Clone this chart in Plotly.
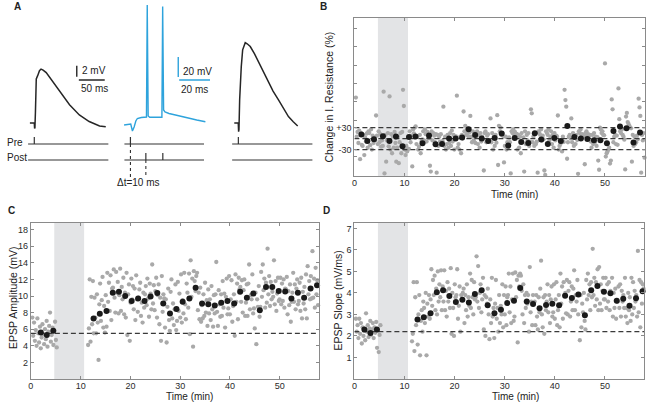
import numpy as np
import plotly.graph_objects as go

W, H = 652, 403
FONT = "Liberation Sans, Arial, sans-serif"

# ---------------- Panel A: example traces ----------------
# before pairing (ms, mV relative to rest)
before_t = [-8.5, 0.0, 0.6, 1.2, 2.2, 3.0, 3.8, 6.5, 10.0, 13.0, 17.0, 23.0, 36.0, 49.0, 68.0, 87.0, 106.0, 126.0, 138.0]
before_v = [0.0, 0.0, -1.0, -0.9, 2.0, 5.5, 8.0, 8.6, 9.5, 9.8, 9.6, 9.15, 7.5, 5.7, 3.3, 1.45, 0.25, -0.55, -0.7]
# during pairing (ms, mV)
pairing_t = [-4.1, 0.2, 1.3, 2.4, 3.5, 4.5, 7.0, 10.4, 10.9, 11.5, 12.5, 16.0, 20.4, 20.9, 21.5, 22.4, 25.0, 29.2, 33.0, 37.9, 43.0, 48.6]
pairing_v = [-70, -69, -76, -72, -66, -63.5, -62.5, -62, 50, -61, -62.2, -62.3, -62.3, 48.5, -55, -57, -58.5, -60, -61.5, -63.3, -65, -66.7]
# after pairing (ms, mV relative to rest)
after_t = [-7.9, -0.2, 0.5, 1.2, 2.5, 4.0, 5.6, 8.3, 11.0, 13.3, 17.0, 23.0, 31.0, 39.0, 48.0, 58.0, 67.0, 77.5, 87.0, 96.7, 106.0, 114.6]
after_v = [0.0, 0.0, -1.6, -1.2, 4.2, 7.5, 10.2, 13.3, 14.3, 14.6, 14.4, 13.9, 12.6, 11.1, 9.3, 7.5, 5.8, 4.2, 2.6, 1.15, 0.2, -0.55]
pre_stim_ms = [[0], [0], [0]]
post_stim_ms = [[], [10, 21], []]
epsp_scale = [50, 2]     # ms, mV
pair_scale = [20, 20]    # ms, mV

# ---------------- Panel B: input resistance (%) ----------------
res_bin_t = [1.4, 2.6, 3.9, 5.7, 7.0, 8.3, 9.6, 10.9, 12.2, 13.6, 14.9, 16.2, 17.5, 18.9, 20.2, 21.5, 22.8,
             24.1, 25.4, 26.7, 28.0, 29.4, 30.7, 32.0, 33.3, 34.7, 36.0, 37.3, 38.6, 39.9, 41.2, 42.5, 43.9,
             45.2, 46.5, 47.8, 49.1, 50.4, 51.7, 53.0, 54.3, 55.7, 57.0]
res_bin_v = [10.9, -6.4, -1.8, 6.4, -6.4, 5.5, -20.9, 4.5, 5.5, -12.7, 8.2, -15.5, -14.5, 0, 0, 2.7, 25.5,
             10, 0, -6.4, 1.8, 13.6, -19, 1.8, -9, -11.8, 14.5, -2.7, -14.5, 1.8, -6.4, 34.5, 4.5,
             0, -1, -4.5, -4.5, -12.7, 21, 32.7, 28, -10.9, 16.4]
res_gray = [
    112, 5, 18, -12, 22, -56, 15, -17,   -20, 10, -45, 3, -8, 14, -25, 20,
    15, -18, 25, -30, 8, -12, 3, -5,     63, 8, -15, 20, -10, 12, -22, -5,
    -20, 128, -95, 10, -63, -5, 15, -21, 115, -30, 12, -40, 6, -25, 18, -12,
    -63, -25, 5, -67, -10, 15, -40, 18,  133, 89, -30, -45, -20, -35, -28, -28,
    20, -10, 8, -76, 25, 14, 30, 33,     -15, 5, -30, -22, 10, -40, -8, -2,
    20, -5, 25, 12, -8, 18, 3, 1,        -74, -90, 20, -5, 15, 8, -10, 12,
    -93, 10, -20, 5, -8, 12, -15, -7,    87, -20, 5, -30, -15, 10, -25, -12,
    15, -20, 22, -8, 10, -30, 5, 6,      117, -25, -15, -30, 5, -40, 10, 0,
    74, 20, 35, 10, 28, 15, 5, 17,       62, 5, -10, 20, -5, 15, -12, 5,
    20, -15, 10, -25, 15, -8, 5, -2,     -87, 15, 20, -10, 8, 12, -5, -4,
    55, -10, 15, -30, 5, -20, 10, -11,   64, -72, 35, 20, 30, 10, 15, 7,
    -65, -20, 5, -30, -10, -25, 3, -10,  -95, 20, 15, 25, 10, 18, 8, 13,
    -30, 10, -25, 5, -40, 15, -10, 3,    -90, 20, -15, 10, -5, 15, -20, -9,
    80, 69, -10, 5, -20, 15, -15, -8,    -93, 20, 15, 10, 25, -5, 8, -2,
    -87, -99, 20, 15, 10, 25, -5, 5,     20, -15, 10, -25, 15, -5, 8, 6,
    63, -30, -20, -15, -10, -35, 5, -9,  133, 105, 87, -55, -10, 5, 10, 1,
    55, -10, 15, -20, 5, -15, 10, -4,    -96, 20, 15, 25, 10, 12, 8, 6,
    -70, 15, 20, 8, 12, 5, 10, -8,       -25, 10, -15, 15, -10, 5, -20, 4,
    -60, -85, 30, 25, 15, 20, 10, 9,     205, -49, -40, -35, -30, -25, -68, -60,
    107, 80, -10, 5, 10, -15, 8, -17,    137, 53, 20, 15, 25, 10, 5, -3,
    -84, 60, 70, 45, 40, 35, 30, 28,     -63, 10, -20, 5, -15, -10, 8, -2,
    109, 85, 62, -93, 10, -5, 15, -52,
]
res_levels = [30, 0, -30]

# ---------------- Panels C / D: EPSP amplitude and slope ----------------
bin_t = [2.0, 3.2, 4.5,
         12.6, 13.85, 15.2, 16.45, 17.7, 18.95, 20.25, 21.55, 22.85, 24.05, 25.4, 26.6, 27.95, 29.25,
         30.5, 31.85, 33.1, 34.4, 35.65, 36.95, 38.25, 39.5, 40.85, 42.05, 43.4, 44.7, 46.0, 47.25,
         48.5, 49.8, 51.1, 52.35, 53.65, 54.9, 56.2, 57.5]
amp_bin = [5.6, 5.3, 5.8,
           7.3, 7.85, 8.2, 10.4, 10.5, 10.0, 9.4, 9.7, 9.4, 9.95, 10.35, 9.1, 7.9, 8.45, 9.3, 9.7, 11.0, 9.1,
           9.0, 8.85, 9.2, 9.4, 9.1, 10.5, 9.8, 10.3, 8.3, 11.1, 11.1, 10.6, 10.55, 9.7, 10.4, 9.8, 10.9, 11.3]
slope_bin = [2.3, 2.14, 2.3,
             2.76, 2.87, 3.06, 4.03, 4.12, 3.86, 3.58, 3.68, 3.55, 3.95, 4.13, 3.43, 3.06, 3.22, 3.53, 3.64,
             4.23, 3.6, 3.49, 3.29, 3.44, 3.5, 3.43, 3.87, 3.77, 3.93, 2.96, 4.12, 4.32, 4.06, 3.98, 3.64,
             3.73, 3.4, 3.75, 4.08]
amp_base_gray = [7.4, 5.2, 6.8, 4.6, 5.9, 4.0, 7.3, 5.5, 4.4, 6.3, 3.7, 5.0, 6.6, 5.4, 4.2,
                 6.0, 4.8, 7.0, 3.9, 5.7, 6.4, 8.0, 4.5, 5.3, 6.2, 4.1, 5.8, 6.9, 4.7, 3.8]
amp_post_gray = [
    4.1, 6.1, 12.0, 4.5, 9.9, 6.6, 11.8, 5.5,    9.8, 7.4, 5.5, 10.2, 6.8, 2.3, 9.0, 11.5,
    7.0, 9.5, 12.3, 6.2, 8.8, 5.6, 10.1, 6.3,    12.8, 9.3, 11.6, 8.2, 12.5, 7.1, 10.9, 11.0,
    13.2, 9.8, 8.0, 12.9, 10.4, 11.7, 7.9, 10.1, 13.3, 8.2, 11.1, 9.6, 12.2, 7.8, 10.4, 7.4,
    12.8, 5.3, 10.2, 11.4, 4.6, 9.2, 12.1, 9.6,  11.2, 8.4, 10.9, 7.1, 12.5, 9.6, 8.1, 9.8,
    10.8, 11.6, 7.6, 9.2, 6.8, 10.4, 8.6, 10.2,  11.2, 8.9, 12.1, 9.7, 7.5, 11.5, 10.3, 8.4,
    13.8, 9.1, 11.3, 8.3, 10.6, 12.2, 7.4, 10.1, 11.4, 6.6, 9.8, 4.6, 12.4, 8.1, 10.2, 9.7,
    6.2, 9.6, 4.4, 8.7, 10.9, 7.1, 5.8, 10.5,    12.0, 7.3, 9.1, 6.5, 8.4, 11.4, 5.9, 7.0,
    11.7, 8.2, 10.3, 7.4, 12.6, 6.8, 9.5, 7.9,   12.8, 9.0, 7.2, 11.5, 10.4, 8.6, 12.7, 5.4,
    14.3, 9.9, 12.1, 3.9, 13.0, 11.8, 10.6, 12.4, 12.8, 8.3, 10.4, 7.2, 11.0, 6.9, 8.9, 7.3,
    10.2, 7.6, 11.6, 8.0, 9.5, 6.4, 10.8, 7.9,   9.6, 7.1, 11.2, 8.4, 6.3, 10.1, 7.9, 10.2,
    14.1, 8.1, 6.4, 10.7, 9.0, 7.5, 10.2, 7.6,   11.8, 8.6, 10.3, 6.2, 9.9, 12.1, 7.8, 8.5,
    12.4, 7.8, 9.6, 11.9, 6.9, 8.8, 10.2, 5.2,   12.6, 9.3, 11.5, 7.2, 12.2, 10.8, 11.1, 9.3,
    11.9, 8.0, 10.7, 12.0, 7.6, 9.2, 11.4, 7.6,  11.5, 13.8, 8.4, 10.1, 9.6, 12.6, 7.9, 8.5,
    6.1, 10.4, 4.2, 9.6, 8.7, 11.2, 7.5, 8.7,    12.9, 9.9, 13.8, 10.7, 12.1, 8.6, 11.6, 9.2,
    15.7, 10.2, 12.4, 8.8, 11.7, 9.6, 10.5, 9.9, 14.3, 9.0, 11.8, 8.2, 10.3, 12.2, 9.4, 9.6,
    12.2, 9.0, 11.5, 9.4, 12.0, 8.6, 10.9, 10.8, 12.3, 7.8, 10.6, 8.9, 11.4, 6.9, 9.3, 10.4,
    12.8, 9.3, 11.4, 8.4, 10.9, 12.0, 9.0, 9.4,  11.6, 8.2, 12.2, 7.3, 10.5, 9.1, 11.1, 8.4,
    12.6, 7.3, 13.6, 10.2, 11.8, 9.6, 12.4, 9.7, 15.4, 9.8, 12.1, 8.6, 13.4, 10.2, 11.9, 8.9,
]
slope_base_gray = [2.8, 2.2, 2.5, 1.9, 2.8, 2.1, 2.6, 1.65, 2.4, 2.0, 2.3, 1.8, 3.05, 2.2, 2.5,
                   1.95, 2.35, 2.7, 2.05, 2.3, 2.6, 1.9, 2.4, 2.15, 2.65, 1.45, 2.25, 1.25, 2.05, 2.5]
slope_post_gray = [
    1.75, 2.1, 4.5, 1.3, 3.8, 2.5, 4.5, 1.6,     3.0, 3.9, 1.1, 2.7, 3.2, 2.2, 3.6, 3.3,
    2.6, 4.0, 1.1, 3.5, 2.9, 3.9, 2.8, 3.7,      5.1, 3.4, 4.6, 3.9, 4.8, 3.2, 4.2, 3.0,
    5.0, 3.6, 4.4, 3.8, 5.05, 3.2, 4.3, 3.6,     5.05, 3.2, 4.1, 2.9, 4.5, 3.6, 4.2, 3.3,
    5.15, 2.1, 4.0, 3.3, 2.0, 4.4, 3.8, 3.9,     5.1, 2.8, 3.4, 4.3, 2.2, 3.9, 3.7, 4.0,
    4.2, 2.6, 3.9, 3.2, 4.4, 2.9, 3.8, 3.4,      4.9, 3.3, 4.6, 3.8, 3.0, 4.5, 3.7, 3.8,
    5.7, 3.6, 5.25, 3.3, 4.0, 4.4, 3.1, 3.7,     4.7, 2.3, 3.9, 2.0, 3.8, 3.5, 4.2, 3.0,
    1.85, 3.7, 2.6, 4.7, 2.9, 3.3, 1.9, 3.5,     4.6, 2.8, 3.3, 2.2, 3.9, 2.6, 3.4, 3.0,
    4.4, 2.4, 3.9, 3.0, 4.3, 2.5, 3.8, 3.9,      4.9, 3.1, 4.3, 2.6, 3.7, 4.9, 2.7, 2.9,
    4.95, 3.8, 4.6, 1.7, 4.8, 4.3, 4.9, 4.8,     4.1, 3.0, 4.4, 2.6, 3.9, 3.3, 4.0, 3.5,
    3.9, 2.2, 5.2, 3.1, 3.6, 2.5, 3.9, 3.5,      3.6, 2.5, 3.9, 2.9, 2.3, 3.8, 3.1, 4.2,
    5.5, 3.0, 2.4, 3.8, 2.1, 3.9, 3.2, 3.6,      4.4, 3.1, 3.9, 2.6, 3.7, 4.3, 2.9, 3.1,
    4.4, 2.8, 3.7, 4.5, 2.5, 3.2, 3.9, 2.4,      4.9, 3.5, 4.3, 2.8, 4.5, 3.9, 4.0, 3.05,
    4.6, 3.0, 4.1, 4.5, 2.9, 3.6, 4.3, 3.2,      4.2, 5.05, 3.2, 3.9, 3.6, 4.6, 3.0, 3.9,
    1.8, 3.9, 2.4, 3.5, 3.1, 4.0, 2.7, 2.3,      4.6, 3.7, 4.9, 3.9, 4.4, 3.2, 4.5, 3.8,
    6.05, 3.9, 4.7, 3.4, 4.5, 3.7, 5.1, 3.2,     5.2, 3.5, 4.4, 3.2, 4.1, 4.7, 3.7, 3.7,
    4.7, 3.3, 4.4, 3.6, 4.5, 3.2, 4.1, 4.0,      4.7, 2.9, 4.0, 3.3, 4.2, 2.8, 3.6, 3.6,
    4.3, 3.3, 4.4, 2.9, 4.1, 3.6, 3.9, 3.3,      4.7, 2.9, 3.3, 2.6, 4.0, 3.2, 3.8, 2.7,
    4.7, 3.0, 4.5, 3.3, 4.1, 3.6, 3.9, 2.9,      5.95, 3.1, 4.6, 2.4, 4.5, 3.5, 4.4, 4.2,
]
amp_baseline = 5.5
slope_baseline = 2.2
pairing_window = [4.7, 10.7]   # min
baseline_span = [0.3, 5.2]     # min, recorded sweeps before pairing
post_span = [11.5, 57.7]       # min, recorded sweeps after pairing
res_span = [0.3, 57.9]


# pixel helpers
def dx(a, b):
    return [a / W, b / W]


def dy(top, bottom):
    return [1 - bottom / H, 1 - top / H]


def px(x):
    return x / W


def py(y):
    return 1 - y / H


fig = go.Figure()
GRAY = "#a9a9a9"
DARK = "#1a1a1a"
TRACE = "#262626"
BLUE = "#2ea3dc"


def markers(x, y, xa, ya, size, color):
    fig.add_trace(go.Scatter(x=x, y=y, xaxis=xa, yaxis=ya, mode="markers",
                             marker=dict(size=size, color=color, line_width=0),
                             hoverinfo="skip", cliponaxis=False))


def hline(level, xa, ya, xr):
    fig.add_trace(go.Scatter(x=xr, y=[level, level], xaxis=xa, yaxis=ya, mode="lines",
                             line=dict(color="#3a3a3a", width=1.3, dash="5px,3px"), hoverinfo="skip"))


def line(x, y, xa, ya, color=TRACE, width=1.5, dash="solid"):
    fig.add_trace(go.Scatter(x=x, y=y, xaxis=xa, yaxis=ya, mode="lines",
                             line=dict(color=color, width=width, dash=dash), hoverinfo="skip"))


XR_B = [0, 58]
XR_CD = [0, 57.8]

# ---- B ----
res_x = np.linspace(res_span[0], res_span[1], len(res_gray))
markers(res_x, res_gray, "x", "y", 4.3, GRAY)
for lv in res_levels:
    hline(lv, "x", "y", XR_B)
markers(res_bin_t, res_bin_v, "x", "y", 6, DARK)

# ---- C / D ----
cd_x = np.concatenate([np.linspace(baseline_span[0], baseline_span[1], len(amp_base_gray)),
                       np.linspace(post_span[0], post_span[1], len(amp_post_gray))])
markers(cd_x, amp_base_gray + amp_post_gray, "x2", "y2", 4.3, GRAY)
hline(amp_baseline, "x2", "y2", XR_CD)
markers(bin_t, amp_bin, "x2", "y2", 6, DARK)

markers(cd_x, slope_base_gray + slope_post_gray, "x3", "y3", 4.3, GRAY)
hline(slope_baseline, "x3", "y3", XR_CD)
markers(bin_t, slope_bin, "x3", "y3", 6, DARK)

# ---- A traces ----
line(before_t, before_v, "x4", "y4")
line(pairing_t, pairing_v, "x5", "y5", color=BLUE, width=1.4)
line(after_t, after_v, "x6", "y6")

# scale bars
line([82, 82], [8.4, 8.4 + epsp_scale[1]], "x4", "y4", width=1.4)
line([86, 86 + epsp_scale[0]], [7.8, 7.8], "x4", "y4", width=1.4)
line([31, 31], [-22, -22 + pair_scale[1]], "x5", "y5", color=BLUE, width=1.4)
line([31.6, 31.6 + pair_scale[0]], [-25, -25], "x5", "y5", color=BLUE, width=1.4)

# stimulation rows (shared row axis y7)
PRE_LV, POST_LV, TICK = 4.1, 2.5, 0.7
row_extent = {"x4": [-12, 143], "x5": [-3.9, 47.7], "x6": [-12, 143]}
for i, xa in enumerate(["x4", "x5", "x6"]):
    for lv, events in ((PRE_LV, pre_stim_ms[i]), (POST_LV, post_stim_ms[i])):
        xs = [row_extent[xa][0], row_extent[xa][1], None]
        ys = [lv, lv, None]
        for e in events:
            xs += [e, e, None]
            ys += [lv, lv + TICK, None]
        line(xs, ys, xa, "y7", color="#333333", width=1.2)
line([pre_stim_ms[1][0]] * 2, [PRE_LV, 0.8], "x5", "y7", color="#333333", width=1.1, dash="dot")
line([post_stim_ms[1][0]] * 2, [POST_LV, 0.8], "x5", "y7", color="#333333", width=1.1, dash="dot")

axis_style = dict(showline=True, linecolor="#8a8a8a", linewidth=1, mirror="ticks", ticks="inside",
                  ticklen=3, tickcolor="#8a8a8a", tickwidth=1, showgrid=False, zeroline=False,
                  tickfont=dict(size=9, color="#2a2a2a", family=FONT), fixedrange=True)
xt = dict(tickvals=[0, 10, 20, 30, 40, 50], ticklabelstandoff=-2)
hidden = dict(visible=False, fixedrange=True)

res_ticks = [-100, -50, -30, 30, 50, 100, 150, 200, 250, 300]
res_text = ["" if v not in (30, -30) else ("+30" if v > 0 else "-30") for v in res_ticks]

fig.update_layout(
    width=W, height=H, margin=dict(l=0, r=0, t=0, b=0),
    paper_bgcolor="white", plot_bgcolor="white", showlegend=False,
    font=dict(family=FONT, size=10, color="#222"),
    xaxis=dict(domain=dx(353, 645), range=XR_B, anchor="y", **xt, **axis_style),
    yaxis=dict(domain=dy(18, 176), range=[-102, 329], anchor="x", tickvals=res_ticks,
               ticktext=res_text, **axis_style),
    xaxis2=dict(domain=dx(28, 317), range=XR_CD, anchor="y2", **xt, **axis_style),
    yaxis2=dict(domain=dy(223, 379), range=[0, 18.8], anchor="x2",
                tickvals=[2, 4, 6, 8, 10, 12, 14, 16, 18], **axis_style),
    xaxis3=dict(domain=dx(353, 644), range=XR_CD, anchor="y3", **xt, **axis_style),
    yaxis3=dict(domain=dy(223, 379), range=[0, 7.25], anchor="x3",
                tickvals=[1, 2, 3, 4, 5, 6, 7], **axis_style),
    xaxis4=dict(domain=dx(20, 110), range=[-22, 151], anchor="y4", **hidden),
    yaxis4=dict(domain=dy(35, 135), range=[-2.2, 16], anchor="x4", **hidden),
    xaxis5=dict(domain=dx(115, 210), range=[-8.4, 52.9], anchor="y5", **hidden),
    yaxis5=dict(domain=dy(0, 135), range=[-80, 55], anchor="x5", **hidden),
    xaxis6=dict(domain=dx(225, 315), range=[-22, 151], anchor="y6", **hidden),
    yaxis6=dict(domain=dy(35, 135), range=[-2.2, 16], anchor="x6", **hidden),
    yaxis7=dict(domain=dy(135, 185), range=[0, 5], anchor="x5", **hidden),
)

# pairing window shading
for xa, ya in (("x", "y"), ("x2", "y2"), ("x3", "y3")):
    fig.add_shape(type="rect", xref=xa, yref=ya + " domain", x0=pairing_window[0], x1=pairing_window[1],
                  y0=0, y1=1, fillcolor="#e3e4e6", line_width=0, layer="below")

ann = []


def text(s, x, y, size=10, bold=False, angle=0, xanchor="center", xref="paper", yref="paper"):
    ann.append(dict(text=f"<b>{s}</b>" if bold else s, x=x, y=y, xref=xref, yref=yref,
                    showarrow=False, textangle=angle, xanchor=xanchor, yanchor="middle",
                    font=dict(size=size, family=FONT, color="#222")))


text("A", px(15), py(6), 10, bold=True)
text("B", px(322), py(6), 10, bold=True)
text("C", px(9), py(210), 10, bold=True)
text("D", px(325), py(210), 10, bold=True)
text("Pre", px(2), py(142), 10, xanchor="left")
text("Post", px(2), py(157), 10, xanchor="left")
text("Δt=10 ms", 5.2, 0.2, 10, xref="x5", yref="y7")
text("2 mV", 114.6, 9.45, 10, xref="x4", yref="y4")
text("50 ms", 115.6, 6.2, 10, xref="x4", yref="y4")
text("20 mV", 43.2, -16, 10, xref="x5", yref="y5")
text("20 ms", 41.6, -34, 10, xref="x5", yref="y5")
text("Change in I. Resistance (%)", px(328), py(97), 10.5, angle=-90)
text("EPSP Amplitude (mV)", px(10), py(297), 10.5, angle=-90)
text("EPSP Slope (mV/ms)", px(337), py(300), 10.5, angle=-90)
text("Time (min)", px(514), py(194), 10)
text("Time (min)", px(187), py(396), 10)
text("Time (min)", px(515), py(396), 10)
fig.update_layout(annotations=ann)

# the page body has a default margin; remove it so the figure sits at the window origin
fig.write_html("out.html", config={"displayModeBar": False},
               post_script="document.body.style.margin='0px';")
